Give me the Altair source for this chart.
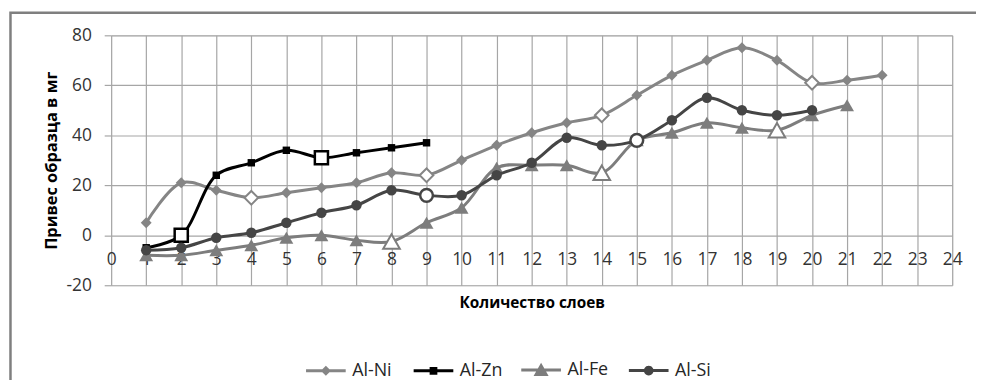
import math
import altair as alt
import pandas as pd

series_names = ["Al-Ni", "Al-Zn", "Al-Fe", "Al-Si"]

ni_x = list(range(1, 23))
ni_y = [5, 21, 18, 15, 17, 19, 21, 25, 24, 30, 36, 41, 45, 48, 56, 64, 70, 75, 70, 61, 62, 64]
ni_open = [4, 9, 14, 20]

zn_x = list(range(1, 10))
zn_y = [-5, 0, 24, 29, 34, 31, 33, 35, 37]
zn_open = [2, 6]

fe_x = list(range(1, 22))
fe_y = [-8, -8, -6, -4, -1, 0, -2, -2.5, 5, 11, 27, 28, 28, 25, 38, 41, 45, 43, 42, 48, 52]
fe_open = [8, 14, 19]

si_x = list(range(1, 21))
si_y = [-6, -5, -1, 1, 5, 9, 12, 18, 16, 16, 24, 29, 39, 36, 38, 46, 55, 50, 48, 50]
si_open = [9, 15]

x_ticks = list(range(0, 25))
y_ticks = [-20, 0, 20, 40, 60, 80]

x_title = "Количество слоев"
y_title = "Привес образца в мг"

rows = []
for name, xs, ys, opens in [("Al-Ni", ni_x, ni_y, ni_open), ("Al-Zn", zn_x, zn_y, zn_open),
                            ("Al-Fe", fe_x, fe_y, fe_open), ("Al-Si", si_x, si_y, si_open)]:
    for xv, yv in zip(xs, ys):
        rows.append({"series": name, "x": xv, "y": yv, "open": xv in opens})
df = pd.DataFrame(rows)

colors = ["#858585", "#000000", "#7d7d7d", "#454545"]
shapes = ["diamond", "square", "triangle-up", "circle"]
filled_sizes = [121, 56, 196, 110]
open_sizes = [190, 175, 280, 165]
open_stroke = [2, 2.5, 2, 2.5]


def poly_circle(r, n=24):
    pts = [(r * math.cos(2 * math.pi * k / n), r * math.sin(2 * math.pi * k / n)) for k in range(n)]
    return "M" + "L".join(f"{px:.4f},{py:.4f}" for px, py in pts) + "Z"


# legend symbols: line segment with the series marker (size 1600 -> 20 px per unit)
legend_paths = [
    "M-1,0H1M-0.15,0L0,-0.15L0.15,0L0,0.15Z",
    "M-1,0H1M-0.12,-0.12H0.12V0.12H-0.12Z",
    "M-1,0H1M0,-0.22L0.25,0.22L-0.25,0.22Z",
    "M-1,0H1" + poly_circle(0.17),
]

FONT = "Open Sans"
GRID = "#a6a6a6"

xscale = alt.Scale(domain=[0, 24], nice=False, zero=False)
yscale = alt.Scale(domain=[-20, 80], nice=False, zero=False)
cscale = alt.Scale(domain=series_names, range=colors)
lscale = alt.Scale(domain=series_names, range=legend_paths)

legend = alt.Legend(
    title=None, orient="none", legendX=195, legendY=316, direction="horizontal",
    columns=4, gridAlign="all", symbolSize=1600, symbolStrokeWidth=3, symbolOpacity=1,
    labelOffset=5, columnPadding=11.5, padding=0, labelFont=FONT, labelFontSize=18,
    labelColor="#262626",
)

x_enc = alt.X("x:Q", scale=xscale, axis=alt.Axis(
    values=x_ticks, title=x_title, grid=True, gridColor=GRID, gridWidth=1.2,
    domain=False, ticks=False, tickSize=0, labelPadding=-26, labelBaseline="middle",
    labelFlush=False, labelOverlap=False, labelFont=FONT, labelFontSize=17.5, labelColor="#333333",
    titleFont=FONT, titleFontSize=15.5, titleFontWeight="bold", titleColor="#000000",
    titleX=424, titleY=17, titleBaseline="middle"))
y_enc = alt.Y("y:Q", scale=yscale, axis=alt.Axis(
    values=y_ticks, title=y_title, grid=True, gridColor=GRID, gridWidth=1.2,
    domain=False, ticks=True, tickSize=7, tickColor=GRID, tickWidth=1.2, labelPadding=13,
    labelFlush=False, labelFont=FONT, labelFontSize=17.5, labelColor="#333333",
    labelExpr="'' + datum.value",
    titleFont=FONT, titleFontSize=16.5, titleFontWeight="bold", titleColor="#000000",
    titleX=-60, titleY=126, titleBaseline="middle", titleAngle=-90))

base = alt.Chart(df)

frame = alt.Chart(pd.DataFrame({"k": [0]})).mark_rect(
    fill="transparent", stroke="#7f7f7f", strokeWidth=2.5
).encode(x=alt.value(-101.5), x2=alt.value(1000), y=alt.value(-22.8), y2=alt.value(500))

layers = [frame]
for i, name in enumerate(series_names):
    sub = base.transform_filter(alt.datum.series == name)
    layers.append(sub.mark_line(interpolate="catmull-rom", strokeWidth=3, color=colors[i])
                  .encode(x=x_enc, y=y_enc))
    layers.append(sub.transform_filter(alt.datum.open == False)
                  .mark_point(shape=shapes[i], size=filled_sizes[i], filled=True,
                              color=colors[i], opacity=1, strokeWidth=0)
                  .encode(x=x_enc, y=y_enc))
    layers.append(sub.transform_filter(alt.datum.open == True)
                  .mark_point(shape=shapes[i], size=open_sizes[i], filled=True, fill="#ffffff",
                              stroke=colors[i], strokeWidth=open_stroke[i], opacity=1)
                  .encode(x=x_enc, y=y_enc))

# legend-only layer: its filter keeps no rows, so it draws nothing on the plot
legend_layer = base.transform_filter(alt.datum.x < -100).mark_point(
    opacity=1, size=1600, strokeWidth=3, filled=True).encode(
    x=x_enc, y=y_enc,
    shape=alt.Shape("series:N", scale=lscale, legend=legend),
    fill=alt.Fill("series:N", scale=cscale, legend=legend),
    stroke=alt.Stroke("series:N", scale=cscale, legend=legend),
)
layers.append(legend_layer)

chart = alt.layer(*layers).properties(
    width=848, height=252,
    padding={"left": 104, "top": 26, "right": 24, "bottom": 94},
    autosize="none",
).configure_view(stroke=None).configure(background="#ffffff")

chart.save("out.html", embed_options={"renderer": "svg", "actions": False})
